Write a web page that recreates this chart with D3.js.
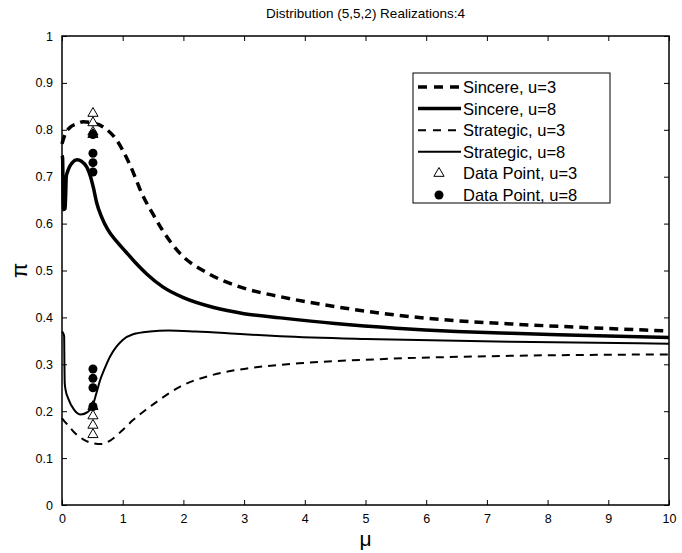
<!DOCTYPE html>
<html><head><meta charset="utf-8">
<script src="https://cdn.jsdelivr.net/npm/d3@7"></script>
<style>body{margin:0;background:#fff}svg{display:block}text{font-family:"Liberation Sans",Arial,sans-serif}</style>
</head><body><svg id="c" width="682" height="553"></svg>
<script>
const title = "Distribution (5,5,2) Realizations:4";
const xTicks = [0,1,2,3,4,5,6,7,8,9,10];
const yTicks = [0,0.1,0.2,0.3,0.4,0.5,0.6,0.7,0.8,0.9,1];
const sincere3 = [[0,0.77],[0.05,0.79],[0.13,0.805],[0.25,0.813],[0.35,0.817],[0.5,0.815],[0.68,0.806],[0.9,0.778],[1.12,0.725],[1.33,0.66],[1.5,0.62],[1.66,0.585],[1.94,0.537],[2.39,0.495],[2.93,0.465],[3.6,0.444],[4.5,0.423],[5.5,0.405],[6.5,0.393],[7.4,0.386],[8.5,0.379],[10,0.371]];
const sincere8 = [[0,0.745],[0.01,0.74],[0.015,0.70],[0.02,0.645],[0.03,0.63],[0.05,0.632],[0.06,0.66],[0.07,0.70],[0.09,0.71],[0.12,0.72],[0.17,0.73],[0.25,0.736],[0.32,0.733],[0.41,0.72],[0.47,0.70],[0.52,0.675],[0.57,0.645],[0.65,0.615],[0.75,0.588],[0.9,0.562],[1.05,0.54],[1.2,0.518],[1.4,0.492],[1.66,0.465],[2.0,0.442],[2.5,0.421],[3,0.408],[3.6,0.399],[4.5,0.387],[5.5,0.377],[6.5,0.37],[7.4,0.366],[8.5,0.362],[10,0.357]];
const strategic3 = [[0,0.185],[0.03,0.18],[0.1,0.17],[0.2,0.155],[0.35,0.14],[0.5,0.132],[0.65,0.13],[0.8,0.138],[1.0,0.16],[1.17,0.181],[1.35,0.2],[1.56,0.22],[1.94,0.252],[2.5,0.278],[3.1,0.292],[3.9,0.302],[5.24,0.311],[7.38,0.318],[10,0.321]];
const strategic8 = [[0,0.37],[0.02,0.366],[0.035,0.36],[0.04,0.30],[0.045,0.26],[0.06,0.245],[0.1,0.228],[0.2,0.203],[0.31,0.193],[0.42,0.198],[0.5,0.21],[0.57,0.24],[0.63,0.267],[0.7,0.29],[0.79,0.316],[0.9,0.338],[1.0,0.352],[1.17,0.364],[1.45,0.37],[1.75,0.372],[2.2,0.37],[3,0.364],[3.6,0.36],[5,0.354],[7.4,0.348],[10,0.344]];
const dataMu = 0.51;
const data3 = [0.835,0.815,0.795,0.79,0.21,0.19,0.17,0.15];
const data8 = [0.79,0.75,0.73,0.71,0.29,0.27,0.25,0.21];
const legendLabels = ["Sincere, u=3","Sincere, u=8","Strategic, u=3","Strategic, u=8","Data Point, u=3","Data Point, u=8"];

const L=62,R=669,T=36,B=505;
const svg=d3.select("#c");
const x=d3.scaleLinear().domain([0,10]).range([L,R]);
const y=d3.scaleLinear().domain([0,1]).range([B,T]);

svg.append("g").attr("transform",`translate(0,${B})`).call(d3.axisBottom(x).tickValues(xTicks).tickSizeInner(-5).tickSizeOuter(0).tickPadding(9).tickFormat(d3.format("d")))
 .call(g=>{g.select(".domain").remove();g.selectAll("text").attr("font-size",12.5).attr("fill","#000");g.selectAll("line").attr("stroke","#000");});
svg.append("g").attr("transform",`translate(0,${T})`).call(d3.axisTop(x).tickValues(xTicks).tickSizeInner(-5).tickSizeOuter(0).tickFormat(""))
 .call(g=>{g.select(".domain").remove();g.selectAll("line").attr("stroke","#000");});
svg.append("g").attr("transform",`translate(${L},0)`).call(d3.axisLeft(y).tickValues(yTicks).tickSizeInner(-5).tickSizeOuter(0).tickPadding(9).tickFormat(d=>d3.format("~g")(d)))
 .call(g=>{g.select(".domain").remove();g.selectAll("text").attr("font-size",12.5).attr("fill","#000");g.selectAll("line").attr("stroke","#000");});
svg.append("g").attr("transform",`translate(${R},0)`).call(d3.axisRight(y).tickValues(yTicks).tickSizeInner(-5).tickSizeOuter(0).tickFormat(""))
 .call(g=>{g.select(".domain").remove();g.selectAll("line").attr("stroke","#000");});
svg.append("rect").attr("x",L).attr("y",T).attr("width",R-L).attr("height",B-T).attr("fill","none").attr("stroke","#000").attr("stroke-width",1.5);

const line=d3.line().x(d=>x(d[0])).y(d=>y(d[1])).curve(d3.curveMonotoneX);
const styles=[
 {d:sincere3,w:3.5,dash:"9,6"},
 {d:sincere8,w:3.5,dash:null},
 {d:strategic3,w:2,dash:"8,6"},
 {d:strategic8,w:2,dash:null}];
styles.forEach(s=>{
 svg.append("path").attr("d",line(s.d)).attr("fill","none").attr("stroke","#000").attr("stroke-width",s.w).attr("stroke-dasharray",s.dash);
});
const tri=d3.symbol().type(d3.symbolTriangle).size(45);
data3.forEach(v=>svg.append("path").attr("d",tri()).attr("transform",`translate(${x(dataMu)},${y(v)})`).attr("fill","#fff").attr("stroke","#000").attr("stroke-width",1));
data8.forEach(v=>svg.append("circle").attr("cx",x(dataMu)).attr("cy",y(v)).attr("r",4.5).attr("fill","#000"));

const lg=svg.append("g");
lg.append("rect").attr("x",413).attr("y",73).attr("width",197).attr("height",130).attr("fill","#fff").attr("stroke","#000").attr("stroke-width",1);
legendLabels.forEach((t,i)=>{
 const yy=87+i*21.6;
 if(i<4){
  const s=styles[i];
  lg.append("line").attr("x1",418).attr("x2",461).attr("y1",yy).attr("y2",yy).attr("stroke","#000").attr("stroke-width",s.w).attr("stroke-dasharray",s.dash? (i==0?"9,7":"8,7"):null);
 } else if(i==4){
  lg.append("path").attr("d",tri()).attr("transform",`translate(439,${yy})`).attr("fill","#fff").attr("stroke","#000");
 } else {
  lg.append("circle").attr("cx",439).attr("cy",yy).attr("r",4.5).attr("fill","#000");
 }
 lg.append("text").attr("x",463).attr("y",yy+6).attr("font-size",16.5).text(t);
});

svg.append("text").attr("x",(L+R)/2).attr("y",18).attr("text-anchor","middle").attr("font-size",13.5).text(title);
svg.append("text").attr("x",(L+R)/2).attr("y",546).attr("text-anchor","middle").attr("font-size",21).text("μ");
svg.append("text").attr("transform",`translate(27,${(T+B)/2}) rotate(-90)`).attr("text-anchor","middle").attr("font-size",22).text("π");
</script></body></html>
